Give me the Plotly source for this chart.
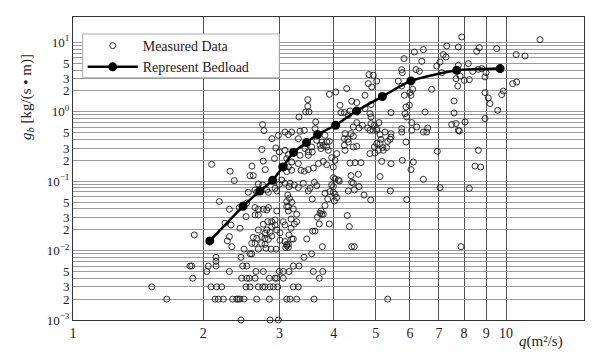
import plotly.graph_objects as go

q_measured = [
    2.74, 2.76, 2.88, 2.98, 2.73, 2.94, 2.995, 2.92, 2.75, 2.09, 2.59, 2.78, 2.305,
    2.357, 2.563, 2.608, 2.679, 2.742, 2.54, 2.632, 2.656, 2.801, 2.826, 2.928, 2.955, 2.995, 3.033, 3.115,
    2.177, 2.297, 2.421, 2.519, 2.632, 2.679, 2.751, 2.801, 2.826, 2.955, 3.115, 3.115,
    2.632, 2.679, 2.509, 2.816, 2.877, 2.928, 2.244, 2.317, 2.751, 2.877, 2.928, 3.059, 3.087,
    2.43, 2.679, 2.801, 2.851, 2.955, 3.006, 2.776, 1.906, 2.297, 2.272, 2.608, 2.656, 2.727, 2.776, 2.826, 2.877, 3.006, 3.087, 3.115, 3.143,
    2.587, 2.632, 2.727, 2.776, 2.326, 2.679, 2.791, 2.866, 2.944, 2.483,
    2.563, 2.587, 2.139, 2.139, 2.443,
    1.863, 1.88, 2.053, 2.139, 2.465, 2.519,
    2.036, 2.297, 2.646, 2.751, 2.995, 3.059,
    1.89, 2.452, 2.519, 2.554, 2.632, 2.841, 2.928, 2.955, 3.059,
    1.52, 2.083, 2.147, 2.205, 2.509, 2.563, 2.679, 2.742, 2.776, 2.851, 2.902, 2.97,
    1.646, 2.128, 2.165, 2.224, 2.337, 2.387, 2.408, 2.43, 2.483, 2.656, 2.841, 3.115,
    2.443, 2.851, 2.98,
    3.992, 4.028, 4.099, 4.385, 4.559, 5.117, 6.441,
    3.087, 3.171, 3.154, 3.244, 3.403, 3.314, 3.609, 3.655, 3.526, 3.495, 3.957, 3.992, 4.121, 4.401, 4.44, 4.576, 4.323, 4.463,
    3.819, 3.922, 3.992, 4.028, 4.699, 5.405, 3.132, 3.159, 3.569, 3.874, 4.065, 4.013, 4.869, 5.897,
    3.2, 3.143, 3.227, 3.819, 3.739, 3.719, 3.753, 3.785, 3.143, 3.285, 3.188, 3.285, 3.244, 3.666, 4.3, 3.705, 3.907, 4.346,
    3.188, 3.154, 3.577, 3.622, 3.2, 3.227, 3.465, 3.115, 3.143, 3.098, 3.765, 4.401, 4.463,
    3.558, 3.416, 3.227, 3.326, 3.154, 3.589, 3.773, 3.705, 3.227, 3.314, 3.171, 3.285, 3.603, 5.33,
    6.441, 6.14, 5.813, 6.386, 5.742, 5.76, 6.196, 6.306, 4.825, 4.937, 5.027, 4.807, 4.895, 5.639, 5.742, 6.088, 6.001, 6.033, 6.734, 4.286, 3.908, 4.043, 4.724, 5.823,
    3.484, 4.401, 4.521, 4.136, 3.484, 3.447, 3.507, 4.877, 5.875, 5.979, 4.724, 3.326, 4.158, 4.232, 4.362, 4.323, 4.851, 4.877, 5.425, 6.499, 5.844, 5.897,
    6.055, 3.635, 4.521, 4.657, 4.576, 4.792, 4.877, 4.964, 5.09, 5.027, 4.44, 4.851, 4.937,
    3.2, 3.344, 3.421, 3.622, 3.087, 3.143, 3.314, 4.248, 4.232, 4.31, 4.385, 4.44, 4.323, 4.232,
    5.027, 5.117, 5.144, 5.254, 5.425, 5.396, 5.33, 5.425, 5.742, 5.742, 6.055, 6.219, 6.441, 6.558, 6.593, 5.875,
    3.819, 3.853, 3.908, 3.785, 3.739, 3.853, 3.887, 3.655, 3.753, 3.719, 3.558, 3.434, 3.495, 3.569,
    3.087, 3.143, 3.115, 3.344, 3.495, 4.065, 3.957, 4.028, 4.248, 4.44, 4.521, 4.851, 4.982, 5.071, 5.207, 5.19, 4.964, 5.027, 5.117, 5.301,
    5.163, 5.425, 5.76, 6.108, 4.362, 4.48, 4.624, 3.686, 3.59, 3.495, 3.421, 3.362, 3.314, 3.2, 3.143, 3.2, 3.853, 3.785, 3.992, 6.033, 3.087,
    7.9, 11.98, 7.294, 7.759, 8.555, 8.675, 9.516, 7.164, 7.267, 10.55, 11.06, 7.039, 6.917, 7.759, 8.183, 7.103, 7.829, 7.664, 8.376, 8.629, 8.786, 8.99,
    8.01, 8.226, 8.942, 7.735, 10.36, 10.58, 8.942, 9.1, 9.183, 9.773, 9.858, 7.584, 9.567, 7.584, 8.942, 8.04, 7.491, 7.664, 7.759, 7.80, 6.939, 8.629, 8.479, 8.739,
    7.039, 8.226, 7.87,
]
g_measured = [
    0.655, 0.536, 0.41, 0.458, 0.286, 0.301, 0.264, 0.212, 0.195, 0.175, 0.165, 0.147, 0.139,
    0.102, 0.1204, 0.1204, 0.0911, 0.0882, 0.0692, 0.0748, 0.0692, 0.0748, 0.0692, 0.0791, 0.0723, 0.0903, 0.104, 0.1375,
    0.0509, 0.0394, 0.0417, 0.0486, 0.0417, 0.0394, 0.0394, 0.0385, 0.0417, 0.0372, 0.0509, 0.0431,
    0.0326, 0.0326, 0.0309, 0.0261, 0.0261, 0.0276, 0.0248, 0.0234, 0.024, 0.0222, 0.0234, 0.0261, 0.0234,
    0.021, 0.0198, 0.0198, 0.0183, 0.0198, 0.0181, 0.0177, 0.0168, 0.0159, 0.0138, 0.0155, 0.015, 0.0159, 0.015, 0.0146, 0.0162, 0.0141, 0.0135, 0.0123, 0.0123,
    0.0127, 0.0127, 0.0127, 0.0123, 0.0114, 0.0105, 0.0108, 0.0105, 0.0105, 0.0105,
    0.009, 0.009, 0.008, 0.007, 0.008,
    0.006, 0.006, 0.006, 0.006, 0.006, 0.006,
    0.005, 0.005, 0.005, 0.005, 0.005, 0.005,
    0.004, 0.004, 0.004, 0.004, 0.004, 0.004, 0.004, 0.004, 0.004,
    0.003, 0.003, 0.003, 0.003, 0.003, 0.003, 0.003, 0.003, 0.003, 0.003, 0.003, 0.003,
    0.002, 0.002, 0.002, 0.002, 0.002, 0.002, 0.002, 0.002, 0.002, 0.002, 0.002, 0.002,
    0.001, 0.001, 0.001,
    0.1126, 0.1075, 0.104, 0.1204, 0.1257, 0.1165, 0.1065,
    0.0933, 0.0933, 0.0836, 0.0882, 0.0933, 0.0808, 0.0964, 0.0864, 0.0791, 0.0723, 0.0882, 0.0836, 0.1006, 0.0964, 0.0933, 0.0836, 0.0723, 0.0748,
    0.067, 0.0709, 0.0692, 0.0648, 0.0633, 0.0723, 0.0633, 0.0568, 0.0554, 0.0554, 0.0581, 0.0519, 0.0537, 0.0544,
    0.0497, 0.0431, 0.0398, 0.0446, 0.0372, 0.0345, 0.0334, 0.0334, 0.0372, 0.0334, 0.0285, 0.0261, 0.0242, 0.0302, 0.032, 0.0242, 0.0242, 0.0222,
    0.021, 0.0168, 0.0191, 0.0191, 0.0147, 0.0147, 0.0147, 0.0118, 0.0111, 0.0111, 0.0114, 0.0114, 0.0114,
    0.009, 0.008, 0.006, 0.006, 0.005, 0.005, 0.005, 0.004, 0.003, 0.003, 0.002, 0.002, 0.002, 0.002,
    7.87, 7.27, 5.84, 5.34, 4.05, 3.67, 4.05, 3.83, 3.44, 3.36, 2.77, 2.55, 2.28, 2.77, 2.35, 2.11, 1.89, 1.73, 2.11, 2.16, 1.79, 1.93, 1.73, 1.73,
    1.50, 1.418, 1.357, 1.242, 1.201, 0.994, 0.994, 1.272, 1.174, 1.242, 1.113, 0.842, 0.974, 0.974, 1.028, 0.891, 0.943, 0.842, 0.974, 0.994, 0.943, 0.842,
    0.699, 0.714, 0.699, 0.64, 0.584, 0.584, 0.677, 0.64, 0.699, 0.541, 0.605, 0.541, 0.541,
    0.511, 0.523, 0.541, 0.572, 0.511, 0.469, 0.41, 0.485, 0.41, 0.401, 0.485, 0.443, 0.367, 0.329,
    0.572, 0.469, 0.401, 0.511, 0.485, 0.401, 0.375, 0.433, 0.572, 0.511, 0.541, 0.605, 0.511, 0.511, 0.584, 0.367,
    0.458, 0.367, 0.375, 0.329, 0.295, 0.311, 0.279, 0.388, 0.367, 0.329, 0.311, 0.295, 0.264, 0.264,
    0.279, 0.242, 0.212, 0.236, 0.236, 0.25, 0.218, 0.2, 0.279, 0.311, 0.318, 0.25, 0.255, 0.279, 0.279, 0.305, 0.311, 0.348, 0.348, 0.305,
    0.193, 0.179, 0.2, 0.189, 0.183, 0.185, 0.185, 0.179, 0.1545, 0.147, 0.139, 0.1436, 0.179, 0.189, 0.16, 0.1436, 0.173, 0.193, 0.16, 0.147, 0.16,
    11.98, 10.96, 8.87, 8.58, 7.44, 8.4, 8.14, 6.68, 6.16, 6.68, 6.37, 5.22, 4.57, 4.68, 4.95, 3.67, 3.28, 3.0, 3.83, 4.09, 4.19, 3.67,
    2.84, 2.91, 3.18, 2.35, 2.55, 2.69, 1.89, 1.58, 1.314, 1.77, 1.99, 1.432, 1.052, 0.962, 0.799, 0.714, 0.655, 0.677, 0.541, 0.53, 0.27, 0.279, 0.165, 0.16,
    0.0808, 0.0791, 0.0114,
]

# Representative bedload curve
q_bedload = [2.07, 2.47, 2.70, 2.89, 3.05, 3.23, 3.46, 3.67, 4.04, 4.52, 5.18, 6.03, 7.69, 9.69]
g_bedload = [0.0138, 0.0435, 0.072, 0.103, 0.16, 0.26, 0.36, 0.47, 0.64, 1.03, 1.66, 2.79, 3.96, 4.19]

# Axis ticks
x_tick_values = [1, 2, 3, 4, 5, 6, 7, 8, 9, 10]
x_tick_labels = ["1", "2", "3", "4", "5", "6", "7", "8", "9", "10"]
y_decades = [-3, -2, -1, 0, 1]
y_labelled_digits = [2, 3, 5]
y_unlabelled_digits = [4, 6, 7, 8, 9]

y_tick_values = []
y_tick_labels = []
y_minor_values = []
for n in y_decades:
    y_tick_values.append(10.0 ** n)
    y_tick_labels.append("10<sup>" + str(n).replace("-", "\u2212") + "</sup>")
    if n < 1:
        for k in y_labelled_digits:
            y_tick_values.append(k * 10.0 ** n)
            y_tick_labels.append(str(k))
        for k in y_unlabelled_digits:
            y_minor_values.append(k * 10.0 ** n)

FONT = "Liberation Serif"

fig = go.Figure()
fig.add_trace(go.Scatter(
    x=q_measured, y=g_measured, mode="markers", name="Measured Data",
    marker=dict(symbol="circle-open", size=6, color="#1a1a1a", line=dict(width=0.9, color="#1a1a1a")),
    cliponaxis=False,
))
fig.add_trace(go.Scatter(
    x=q_bedload, y=g_bedload, mode="lines+markers", name="Represent Bedload",
    line=dict(color="black", width=2.5, shape="spline", smoothing=0.6),
    marker=dict(symbol="circle", size=9, color="black"),
))

fig.update_layout(
    width=601, height=355,
    margin=dict(l=73, r=17, t=17, b=35),
    paper_bgcolor="white", plot_bgcolor="white",
    font=dict(family=FONT, size=13, color="#222"),
    showlegend=True,
    legend=dict(
        x=0.019, y=0.957, xanchor="left", yanchor="top",
        bgcolor="rgba(0,0,0,0)", borderwidth=0,
        font=dict(family=FONT, size=14, color="#222"),
        tracegroupgap=0, itemwidth=50,
    ),
    shapes=[dict(
        type="rect", xref="paper", yref="paper",
        x0=0.019, x1=0.4037, y0=0.7997, y1=0.9439,
        fillcolor="white", line=dict(color="#aaa", width=1), layer="above",
    )],
    xaxis=dict(
        type="log", range=[0, 1.18],
        tickvals=x_tick_values, ticktext=x_tick_labels,
        showgrid=True, gridcolor="#555", gridwidth=1,
        showline=True, linecolor="#333", linewidth=1, mirror=True,
        ticks="", zeroline=False,
        tickfont=dict(family=FONT, size=14, color="#222"),
    ),
    yaxis=dict(
        type="log", range=[-3, 1.366],
        tickvals=y_tick_values, ticktext=y_tick_labels,
        showgrid=True, gridcolor="#9a9a9a", gridwidth=1,
        minor=dict(tickvals=y_minor_values, showgrid=True, gridcolor="#9a9a9a", gridwidth=1, ticks=""),
        showline=True, linecolor="#333", linewidth=1, mirror=True,
        ticks="", zeroline=False,
        tickfont=dict(family=FONT, size=13, color="#222"),
    ),
    annotations=[
        dict(
            text="<i>q</i>(m\u00b2/s)", xref="paper", yref="paper",
            x=0.916, y=-0.07, xanchor="center", yanchor="middle", showarrow=False,
            font=dict(family=FONT, size=15, color="#222"),
        ),
        dict(
            text="<i>g</i><sub><i>b</i></sub> [kg/(s \u2022 m)]", xref="paper", yref="paper",
            x=-0.09, y=0.736, xanchor="center", yanchor="middle", showarrow=False,
            textangle=-90, font=dict(family=FONT, size=15, color="#222"),
        ),
    ],
)

fig.write_html("out.html", config={"displayModeBar": False},
               post_script="document.body.style.margin='0px';")
